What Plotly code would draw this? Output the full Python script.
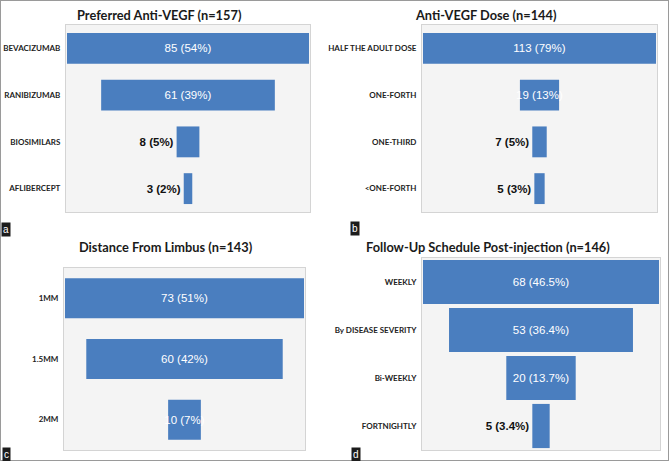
import plotly.graph_objects as go

# ---- data ----
cat_a = ["BEVACIZUMAB", "RANIBIZUMAB", "BIOSIMILARS", "AFLIBERCEPT"]
val_a = [85, 61, 8, 3]
pct_a = ["54%", "39%", "5%", "2%"]

cat_b = ["HALF THE ADULT DOSE", "ONE-FORTH", "ONE-THIRD", "<ONE-FORTH"]
val_b = [113, 19, 7, 5]
pct_b = ["79%", "13%", "5%", "3%"]

cat_c = ["1MM", "1.5MM", "2MM"]
val_c = [73, 60, 10]
pct_c = ["51%", "42%", "7%"]

cat_d = ["WEEKLY", "By DISEASE SEVERITY", "Bi-WEEKLY", "FORTNIGHTLY"]
val_d = [68, 53, 20, 5]
pct_d = ["46.5%", "36.4%", "13.7%", "3.4%"]

titles = ["Preferred Anti-VEGF (n=157)", "Anti-VEGF Dose (n=144)",
          "Distance From Limbus (n=143)", "Follow-Up Schedule Post-injection (n=146)"]
panel_letters = ["a", "b", "c", "d"]

# ---- styling ----
W, H = 669, 461
BAR = "#4a7ebf"
TICKFONT = dict(family="Lato, Arial, sans-serif", size=8,
                color="#222222", weight="bold")

def px_x(p):
    return p / W

def px_y(p):
    return 1 - p / H

panels = [
    dict(cat=cat_a, val=val_a, pct=pct_a, xd=(66, 310), yd=(25, 212), pad=244 / 242,
         pos=["inside", "inside", "outside", "outside"], width=0.66),
    dict(cat=cat_b, val=val_b, pct=pct_b, xd=(422, 657), yd=(25, 212), pad=235 / 233,
         pos=["inside", "inside", "outside", "outside"], width=0.66),
    dict(cat=cat_c, val=val_c, pct=pct_c, xd=(64, 305), yd=(268, 450), pad=241 / 239,
         pos=["inside", "inside", "inside"], width=0.66),
    dict(cat=cat_d, val=val_d, pct=pct_d, xd=(422, 660), yd=(258, 450), pad=238 / 236,
         pos=["inside", "inside", "inside", "outside"], width=0.92),
]

fig = go.Figure()
layout_axes = {}
for i, p in enumerate(panels):
    n = "" if i == 0 else str(i + 1)
    vals = p["val"]
    fig.add_trace(go.Bar(
        y=p["cat"],
        x=[-v for v in vals],
        base=[v / 2 for v in vals],
        orientation="h",
        width=p["width"],
        marker=dict(color=BAR, line=dict(width=0)),
        text=[f"{v} ({q})" for v, q in zip(vals, p["pct"])],
        textposition=p["pos"],
        textangle=0,
        insidetextanchor="middle",
        constraintext="none",
        insidetextfont=dict(family="Liberation Sans, Arial", size=11.5, color="white"),
        outsidetextfont=dict(family="Liberation Sans, Arial", size=11.5, color="#111111", weight="bold"),
        cliponaxis=False,
        xaxis="x" + n,
        yaxis="y" + n,
        showlegend=False,
        hoverinfo="skip",
    ))
    half = max(vals) / 2 * p["pad"]
    layout_axes["xaxis" + n] = dict(
        domain=[px_x(p["xd"][0]), px_x(p["xd"][1])],
        range=[-half, half],
        anchor="y" + n,
        automargin=False,
        showticklabels=False, showgrid=False, zeroline=False,
        showline=True, mirror=True, linecolor="#d4d4d4", linewidth=1,
        fixedrange=True,
    )
    layout_axes["yaxis" + n] = dict(
        domain=[px_y(p["yd"][1]), px_y(p["yd"][0])],
        anchor="x" + n,
        automargin=False,
        type="category",
        categoryorder="array",
        categoryarray=p["cat"],
        autorange="reversed",
        showgrid=False, zeroline=False,
        showline=True, mirror=True, linecolor="#d4d4d4", linewidth=1,
        ticks="outside", ticklen=3, tickcolor="rgba(0,0,0,0)",
        tickfont=TICKFONT,
        fixedrange=True,
    )

fig.update_layout(**layout_axes)

title_pos = [(159, 15), (486, 15), (166, 247), (488, 247)]
annotations = []
for t, (tx, ty) in zip(titles, title_pos):
    annotations.append(dict(
        text=t, x=px_x(tx), y=px_y(ty), xref="paper", yref="paper",
        xanchor="center", yanchor="middle", showarrow=False,
        font=dict(family="Lato, Arial, sans-serif", size=12.8, color="#1a1a1a", weight="bold"),
    ))

letter_pos = [(6.5, 229), (355, 228), (6, 454), (356.5, 454)]
for t, (lx, ly) in zip(panel_letters, letter_pos):
    annotations.append(dict(
        text=t, x=px_x(lx), y=px_y(ly), xref="paper", yref="paper",
        xanchor="center", yanchor="middle", showarrow=False,
        bgcolor="#1c1c1c", borderpad=1,
        font=dict(family="Liberation Sans, Arial", size=10, color="white"),
    ))

fig.update_layout(
    width=W, height=H,
    margin=dict(l=0, r=0, t=0, b=0),
    paper_bgcolor="white",
    plot_bgcolor="#f4f4f4",
    barmode="overlay",
    annotations=annotations,
    shapes=[dict(type="rect", xref="paper", yref="paper", x0=0, y0=0, x1=1, y1=1,
                 line=dict(color="#9a9a9a", width=2), fillcolor="rgba(0,0,0,0)")],
)

fig.write_html(
    "out.html",
    config={"displayModeBar": False},
    post_script="document.body.style.margin='0';document.body.style.overflow='hidden';",
)
